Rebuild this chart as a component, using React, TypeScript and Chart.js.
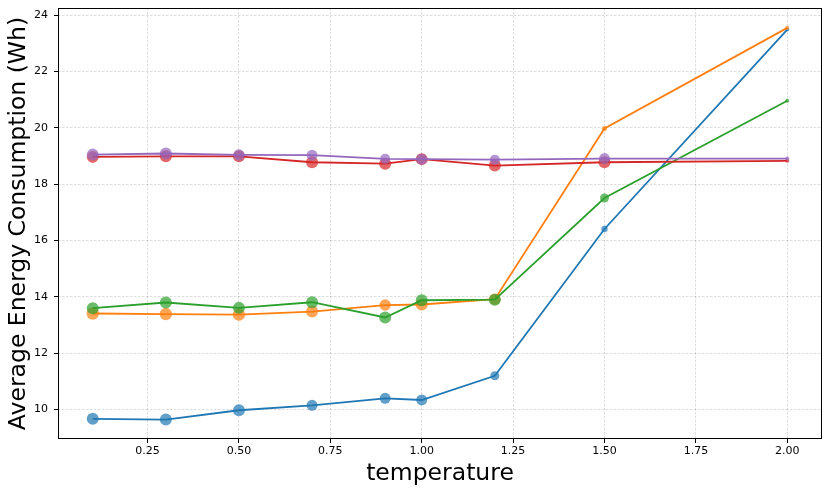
import { useEffect, useRef } from "react";
import { Chart, registerables } from "chart.js";

Chart.register(...registerables);

// x values (temperature)
const temperatures = [0.1, 0.3, 0.5, 0.7, 0.9, 1.0, 1.2, 1.5, 2.0];

// series values (Average Energy Consumption, Wh)
const blueValues = [9.67, 9.645, 9.975, 10.15, 10.4, 10.34, 11.2, 16.41, 23.49];
const orangeValues = [13.41, 13.39, 13.37, 13.48, 13.71, 13.73, 13.92, 19.98, 23.55];
const greenValues = [13.6, 13.8, 13.61, 13.81, 13.27, 13.88, 13.9, 17.51, 20.96];
const redValues = [18.97, 18.99, 18.99, 18.78, 18.73, 18.89, 18.66, 18.78, 18.83];
const purpleValues = [19.05, 19.09, 19.04, 19.03, 18.9, 18.89, 18.87, 18.91, 18.91];

// marker sizes (per point)
const blueSizes = [6, 6, 6, 5.5, 5.5, 5.5, 4.5, 3.2, 2];
const orangeSizes = [6.2, 6.2, 6.2, 6, 5.7, 6, 5.7, 2.5, 2];
const greenSizes = [6, 6, 6, 6, 6, 6, 6, 4.5, 2];
const redSizes = [6, 6, 6, 6, 6, 6, 6, 6, 2];
const purpleSizes = [6, 6, 5.7, 5.5, 5, 5.5, 5, 5.5, 2];

// tick labels
const xTickValues = [0.25, 0.5, 0.75, 1.0, 1.25, 1.5, 1.75, 2.0];
const yTickValues = [10, 12, 14, 16, 18, 20, 22, 24];

const FONT = "DejaVu Sans";

function rgba(hex: string, a: number) {
  const n = parseInt(hex.slice(1), 16);
  return `rgba(${(n >> 16) & 255},${(n >> 8) & 255},${n & 255},${a})`;
}

export default function App() {
  const ref = useRef<HTMLCanvasElement>(null);

  useEffect(() => {
    document.body.style.margin = "0";
    const series = [
      { values: blueValues, sizes: blueSizes, color: "#1f77b4" },
      { values: orangeValues, sizes: orangeSizes, color: "#ff7f0e" },
      { values: greenValues, sizes: greenSizes, color: "#2ca02c" },
      { values: redValues, sizes: redSizes, color: "#d62728" },
      { values: purpleValues, sizes: purpleSizes, color: "#9467bd" },
    ];
    const datasets = series.map((s, idx) => ({
      data: temperatures.map((t, i) => ({ x: t, y: s.values[i] })),
      borderColor: s.color,
      borderWidth: 1.8,
      pointRadius: s.sizes,
      pointHoverRadius: s.sizes,
      pointBackgroundColor: rgba(s.color, 0.7),
      pointBorderColor: rgba(s.color, 0.0),
      pointBorderWidth: 0,
      tension: 0,
      fill: false,
      order: series.length - 1 - idx,
    }));

    const frame = {
      id: "frame",
      afterDraw(chart: any) {
        const { ctx, chartArea } = chart;
        const l = Math.round(chartArea.left) + 0.5;
        const t = Math.round(chartArea.top) + 0.5;
        const r = Math.round(chartArea.right) - 0.5;
        const b = Math.round(chartArea.bottom) - 0.5;
        ctx.save();
        ctx.strokeStyle = "#000";
        ctx.lineWidth = 1;
        ctx.strokeRect(l, t, r - l, b - t);
        ctx.restore();
      },
    };

    const zeroPad = (s: any) => {
      s.paddingTop = 0;
      s.paddingBottom = 0;
      s.paddingLeft = 0;
      s.paddingRight = 0;
    };

    const gridOpts = {
      color: "rgba(0,0,0,0.15)",
      lineWidth: 0.9,
      tickLength: 4,
      tickColor: "#000",
      tickWidth: 1,
    };

    const chart = new Chart(ref.current!, {
      type: "line",
      data: { datasets: datasets as any },
      options: {
        animation: false,
        responsive: false,
        devicePixelRatio: 1,
        events: [],
        layout: { padding: { left: 0, top: 8, right: 8, bottom: 0 } },
        plugins: { legend: { display: false }, tooltip: { enabled: false } },
        scales: {
          x: {
            type: "linear",
            min: 0.005,
            max: 2.095,
            afterBuildTicks: (s: any) => {
              s.ticks = xTickValues.map((v) => ({ value: v }));
            },
            afterFit: (s: any) => {
              s.height = 55;
              zeroPad(s);
            },
            ticks: {
              callback: (v: any) => Number(v).toFixed(2),
              font: { family: FONT, size: 11 },
              color: "#000",
              padding: 2,
              maxRotation: 0,
              autoSkip: false,
            },
            grid: gridOpts,
            border: { display: false, dash: [2.5, 1.5] },
            title: {
              display: true,
              text: "temperature",
              font: { family: FONT, size: 23.5 },
              color: "#000",
              padding: { top: 0, bottom: 6 },
            },
          },
          y: {
            type: "linear",
            min: 8.955,
            max: 24.255,
            afterBuildTicks: (s: any) => {
              s.ticks = yTickValues.map((v) => ({ value: v }));
            },
            afterFit: (s: any) => {
              s.width = 58;
              zeroPad(s);
            },
            ticks: {
              callback: (v: any) => String(Math.round(Number(v))),
              font: { family: FONT, size: 11 },
              color: "#000",
              padding: 6,
              autoSkip: false,
            },
            grid: gridOpts,
            border: { display: false, dash: [2.5, 1.5] },
            title: {
              display: true,
              text: "Average Energy Consumption (Wh)",
              font: { family: FONT, size: 23.5 },
              color: "#000",
              padding: { top: 5, bottom: 0 },
            },
          },
        },
      },
      plugins: [frame],
    });
    return () => chart.destroy();
  }, []);

  return (
    <div style={{ width: 830, height: 494 }}>
      <canvas ref={ref} width={830} height={494} style={{ width: 830, height: 494, display: "block" }} />
    </div>
  );
}
